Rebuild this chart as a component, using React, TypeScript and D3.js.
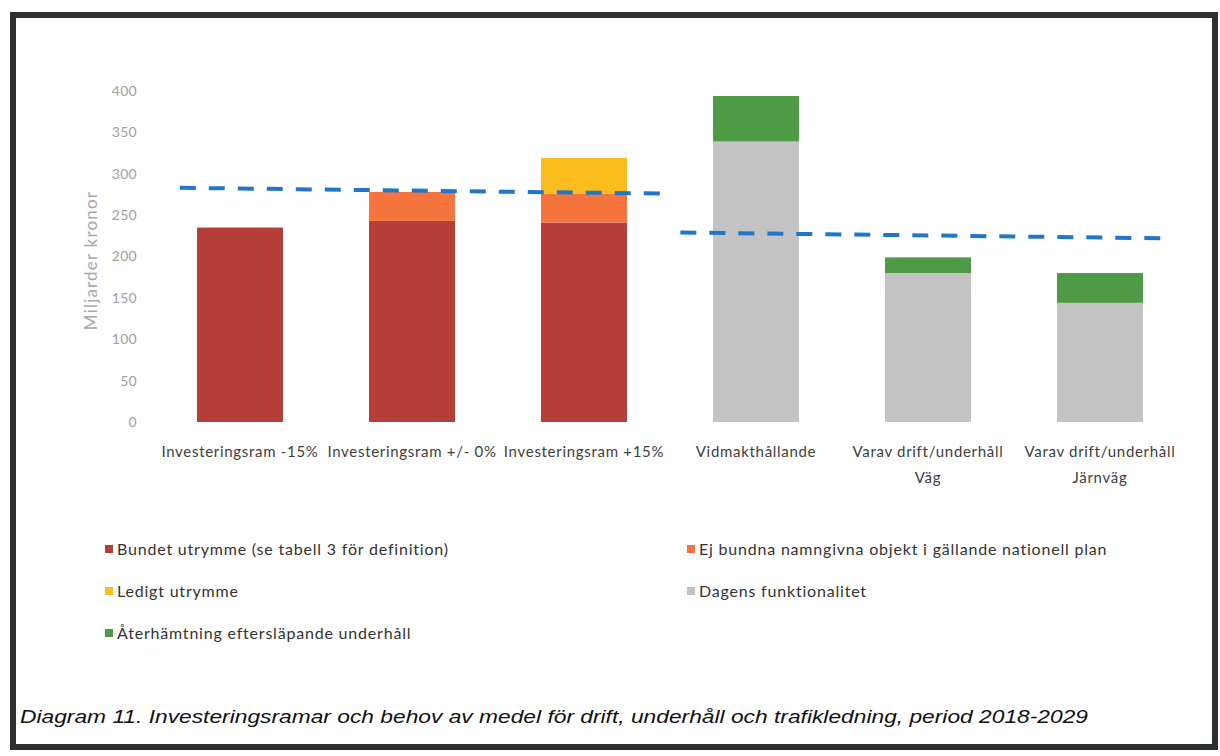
import React from "react";
import * as d3 from "d3";

const categories = [
  ["Investeringsram -15%"],
  ["Investeringsram +/- 0%"],
  ["Investeringsram +15%"],
  ["Vidmakthållande"],
  ["Varav drift/underhåll", "Väg"],
  ["Varav drift/underhåll", "Järnväg"],
];
const bundet = [235, 243, 241, 0, 0, 0];
const ejBundna = [0, 35, 35, 0, 0, 0];
const ledigt = [0, 0, 43, 0, 0, 0];
const dagens = [0, 0, 0, 339, 180, 144];
const aterhamtning = [0, 0, 0, 55, 19, 36];
const yTicks = [0, 50, 100, 150, 200, 250, 300, 350, 400];
// dashed reference lines: [start value, end value] (slightly tilted in scan)
const refInvest = [283, 276];
const refMaint = [229, 222];

const seriesKeys = ["bundet", "ejBundna", "ledigt", "dagens", "aterhamtning"];
const seriesValues: Record<string, number[]> = { bundet, ejBundna, ledigt, dagens, aterhamtning };
const seriesLabels: Record<string, string> = {
  bundet: "Bundet utrymme (se tabell 3 för definition)",
  ejBundna: "Ej bundna namngivna objekt i gällande nationell plan",
  ledigt: "Ledigt utrymme",
  dagens: "Dagens funktionalitet",
  aterhamtning: "Återhämtning eftersläpande underhåll",
};
const colors: Record<string, string> = {
  bundet: "#b53f38",
  ejBundna: "#f5733d",
  ledigt: "#fbbd1e",
  dagens: "#c3c3c3",
  aterhamtning: "#4f9a45",
};

export default function App() {
  const W = 1220, H = 756;
  const font = "Lato, 'Open Sans', sans-serif";
  const idx = categories.map((_, i) => String(i));
  const x = d3.scaleBand<string>().domain(idx).range([154, 1186]).paddingInner(0.5).paddingOuter(0.25);
  const y = d3.scaleLinear().domain([0, 400]).range([422, 91]);
  const bw = x.bandwidth();
  const step = x.step();

  const table = categories.map((_, i) => {
    const row: any = {};
    seriesKeys.forEach((k) => (row[k] = seriesValues[k][i]));
    return row;
  });
  const stacked = d3.stack<any>().keys(seriesKeys)(table);

  const line = d3.line<[number, number]>().x((d) => d[0]).y((d) => y(d[1]));
  const investPts: [number, number][] = [
    [x("0")! - 0.1 * step, refInvest[0]],
    [x("2")! + bw + 0.22 * step, refInvest[1]],
  ];
  const maintPts: [number, number][] = [
    [x("3")! - 0.19 * step, refMaint[0]],
    [x("5")! + bw + 0.13 * step, refMaint[1]],
  ];

  const legendLayout = [
    { key: "bundet", x: 105, y: 549 },
    { key: "ejBundna", x: 687, y: 549 },
    { key: "ledigt", x: 105, y: 591 },
    { key: "dagens", x: 687, y: 591 },
    { key: "aterhamtning", x: 105, y: 633 },
  ];

  return (
    <svg width={W} height={H} style={{ position: "absolute", left: 0, top: 0, background: "#fff" }}>
      <rect x={0} y={0} width={W} height={H} fill="#fff" />
      <rect x={13} y={15} width={1202} height={732} fill="none" stroke="#2c302f" strokeWidth={6} />

      {/* y axis labels */}
      {yTicks.map((t) => (
        <text key={t} x={137} y={y(t)} dy="0.35em" textAnchor="end" fontFamily={font} fontSize={14} fill="#a0a0a0" letterSpacing={0.3}>
          {t}
        </text>
      ))}
      <text
        transform={`translate(97,${y(200) + 4}) rotate(-90)`}
        textAnchor="middle"
        fontFamily={font}
        fontSize={17}
        fill="#a8a8a8"
        letterSpacing={1.2}
      >
        Miljarder kronor
      </text>

      {/* bars */}
      {stacked.map((s) => (
        <g key={s.key} fill={colors[s.key]}>
          {s.map((d, i) =>
            d[1] - d[0] > 0 ? (
              <rect key={i} x={x(String(i))} y={y(d[1])} width={bw} height={y(d[0]) - y(d[1])} />
            ) : null
          )}
        </g>
      ))}

      {/* reference lines */}
      <path d={line(investPts)!} stroke="#1f77c9" strokeWidth={4} strokeDasharray="16,13" fill="none" />
      <path d={line(maintPts)!} stroke="#1f77c9" strokeWidth={4} strokeDasharray="16,13" fill="none" />

      {/* x labels */}
      {categories.map((c, i) => (
        <text key={i} x={x(String(i))! + bw / 2} y={457} textAnchor="middle" fontFamily={font} fontSize={15} fill="#404040" letterSpacing={0.7}>
          {c.map((ln, j) => (
            <tspan key={j} x={x(String(i))! + bw / 2} dy={j === 0 ? 0 : 26}>
              {ln}
            </tspan>
          ))}
        </text>
      ))}

      {/* legend */}
      {legendLayout.map((l) => (
        <g key={l.key}>
          <rect x={l.x} y={l.y - 4} width={8} height={8} fill={colors[l.key]} />
          <text x={l.x + 12} y={l.y} dy="0.35em" fontFamily={font} fontSize={16} fill="#333" letterSpacing={0.8}>
            {seriesLabels[l.key]}
          </text>
        </g>
      ))}

      {/* caption */}
      <text
        x={20}
        y={723}
        fontFamily="'Liberation Sans', Arial, sans-serif"
        fontStyle="italic"
        fontSize={19}
        fill="#111"
        textLength={1068}
        lengthAdjust="spacingAndGlyphs"
      >
        Diagram 11. Investeringsramar och behov av medel för drift, underhåll och trafikledning, period 2018-2029
      </text>
    </svg>
  );
}
